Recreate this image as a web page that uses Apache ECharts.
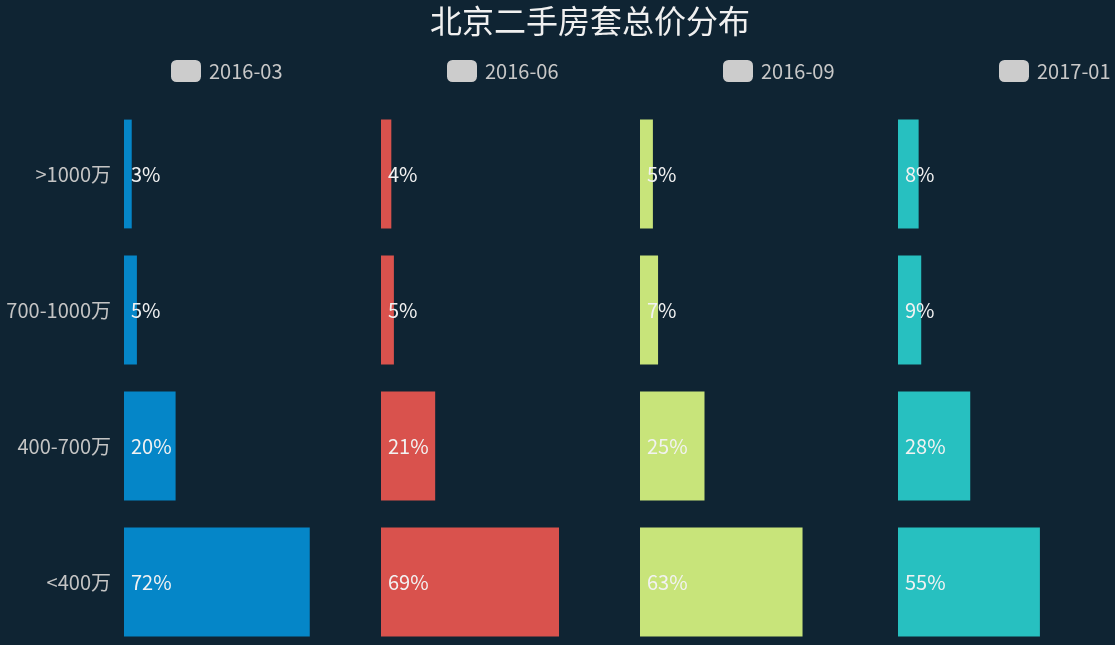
<!DOCTYPE html>
<html>
<head>
<meta charset="utf-8">
<script src="https://cdn.jsdelivr.net/npm/echarts@6/dist/echarts.min.js"></script>
<style>html,body{margin:0;padding:0;background:#0f2433;}#main{width:1115px;height:645px;}</style>
</head>
<body>
<div id="main"></div>
<script>
var categories = ['<400万', '400-700万', '700-1000万', '>1000万'];
var seriesNames = ['2016-03', '2016-06', '2016-09', '2017-01'];
var values0 = [72, 20, 5, 3];
var values1 = [69, 21, 5, 4];
var values2 = [63, 25, 7, 5];
var values3 = [55, 28, 9, 8];
var allValues = [values0, values1, values2, values3];
var colors = ['#0586c8', '#d9524d', '#c8e47a', '#27c0c0'];

var FONT = '"Noto Sans CJK SC", "Noto Sans", sans-serif';
var gridLefts = [124, 381, 640, 898];
var legendLefts = [166, 442, 718, 994];

var grids = [], xAxes = [], yAxes = [], series = [], legends = [];
for (var i = 0; i < 4; i++) {
  grids.push({left: gridLefts[i], width: 258, top: 106, height: 544, outerBoundsMode: 'none', containLabel: false});
  xAxes.push({type: 'value', gridIndex: i, min: 0, max: 100, show: false});
  yAxes.push({
    type: 'category', gridIndex: i, data: categories,
    axisLine: {show: false}, axisTick: {show: false}, splitLine: {show: false},
    axisLabel: {show: i === 0, color: '#c4c4c4', fontSize: 20, fontFamily: FONT, margin: 13}
  });
  series.push({
    type: 'bar', name: seriesNames[i], xAxisIndex: i, yAxisIndex: i,
    data: allValues[i], barCategoryGap: '20%',
    itemStyle: {color: colors[i]},
    label: {show: true, position: 'insideLeft', distance: 7, formatter: '{c}%', color: '#f2f2f2', fontSize: 20, fontFamily: FONT}
  });
  legends.push({
    data: [seriesNames[i]], left: legendLefts[i], top: 55,
    icon: 'roundRect', itemWidth: 30, itemHeight: 22, itemGap: 8,
    itemStyle: {color: '#cccccc'},
    textStyle: {color: '#c8c8c8', fontSize: 20, fontFamily: FONT, padding: [0, 0, 0, 3]}
  });
}

var chart = echarts.init(document.getElementById('main'));
chart.setOption({
  backgroundColor: '#0f2433',
  animation: false,
  title: {text: '北京二手房套总价分布', left: 425, top: 0,
    textStyle: {color: '#f0f0f0', fontSize: 32, fontWeight: 'normal', fontFamily: FONT}},
  legend: legends,
  grid: grids,
  xAxis: xAxes,
  yAxis: yAxes,
  series: series
});
</script>
</body>
</html>
